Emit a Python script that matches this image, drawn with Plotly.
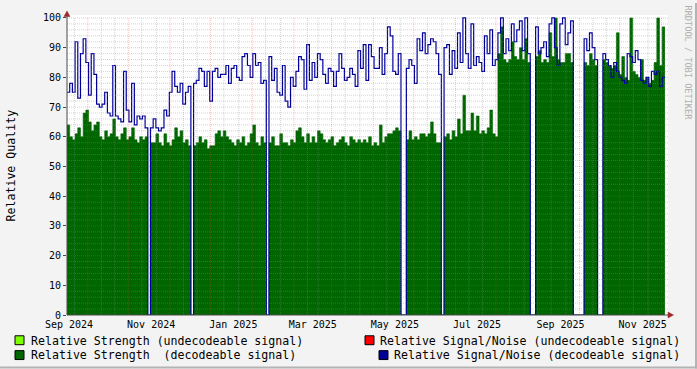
import plotly.graph_objects as go
from datetime import datetime, timedelta

# ---------------- data ----------------
START = datetime(2024, 8, 30, 12)   # left edge of the graph
BIN_DAYS = 2                        # consolidation step of the archive
VIEW_DAYS = 446.3                   # visible time span

# Relative Signal/Noise (decodeable signal), one value per 2-day step
SN_DECODED = [
    75, 78, 75, 92, 73, 88, 93, 85, 74, 88,
    81, 71, 70, 71, 75, 68, 67, 84, 67, 66,
    65, 82, 69, 65, 78, 64, 67, 66, 67, 63,
    0, 63, 66, 63, 62, 63, 69, 67, 75, 82,
    77, 75, 78, 71, 75, 77, 0, 78, 79, 83,
    82, 77, 82, 72, 82, 83, 80, 81, 81, 84,
    78, 83, 84, 80, 79, 87, 88, 84, 80, 88,
    84, 85, 78, 79, 0, 87, 79, 83, 75, 74,
    84, 72, 70, 80, 77, 82, 87, 86, 76, 91,
    79, 85, 80, 88, 86, 81, 78, 83, 82, 77,
    82, 88, 83, 79, 80, 83, 81, 77, 89, 83,
    91, 79, 91, 87, 83, 83, 90, 81, 88, 97,
    94, 82, 81, 88, 0, 0, 83, 86, 84, 78,
    93, 89, 95, 88, 91, 93, 92, 88, 81, 0,
    90, 91, 81, 89, 83, 95, 85, 100, 88, 83,
    98, 84, 87, 85, 82, 94, 88, 96, 84, 86,
    95, 100, 88, 93, 89, 98, 92, 96, 99, 89,
    100, 88, 0, 0, 97, 88, 90, 92, 87, 98,
    100, 90, 84, 98, 100, 91, 95, 99, 0, 0,
    0, 0, 93, 89, 95, 90, 86, 0, 0, 88,
    86, 84, 80, 85, 82, 80, 79, 78, 88, 87,
    85, 89, 86, 79, 78, 80, 77, 82, 81, 82,
    77, 80,
]

# Relative Strength (decodeable signal), one value per 2-day step
STRENGTH_DECODED = [
    64, 60, 59, 61, 63, 60, 68, 69, 65, 62,
    64, 65, 60, 59, 62, 60, 61, 66, 60, 59,
    61, 63, 59, 60, 63, 59, 58, 60, 59, 60,
    0, 58, 58, 61, 58, 57, 61, 58, 57, 59,
    63, 60, 62, 58, 59, 57, 0, 57, 58, 60,
    58, 59, 56, 57, 57, 61, 62, 60, 62, 60,
    59, 58, 57, 59, 58, 60, 57, 58, 61, 64,
    58, 57, 60, 58, 0, 58, 60, 57, 57, 61,
    58, 58, 57, 59, 58, 62, 63, 60, 58, 61,
    58, 60, 58, 62, 61, 59, 58, 59, 60, 57,
    58, 59, 60, 58, 57, 60, 59, 58, 59, 58,
    59, 58, 60, 57, 58, 57, 64, 58, 60, 61,
    61, 62, 63, 62, 0, 0, 59, 62, 59, 60,
    59, 61, 61, 60, 61, 65, 61, 58, 58, 0,
    60, 61, 59, 62, 60, 66, 61, 74, 62, 62,
    68, 62, 67, 61, 62, 61, 63, 69, 61, 60,
    88, 97, 86, 85, 86, 92, 87, 86, 90, 86,
    93, 85, 0, 0, 87, 89, 85, 86, 85, 95,
    87, 100, 86, 85, 85, 88, 88, 85, 0, 0,
    0, 0, 85, 84, 88, 86, 84, 0, 0, 86,
    85, 84, 83, 84, 95, 81, 87, 80, 79, 100,
    82, 81, 80, 86, 79, 80, 78, 79, 85, 100,
    84, 97,
]

TICK_DATES = ["2024-09-01", "2024-11-01", "2025-01-01", "2025-03-01",
              "2025-05-01", "2025-07-01", "2025-09-01", "2025-11-01"]
TICK_LABELS = ["Sep 2024", "Nov 2024", "Jan 2025", "Mar 2025",
               "May 2025", "Jul 2025", "Sep 2025", "Nov 2025"]
Y_TICKS = list(range(0, 101, 10))

LEGEND_ITEMS = [
    ("Relative Strength (undecodeable signal)", "#80FF00"),
    ("Relative Strength  (decodeable signal)", "#006600"),
    ("Relative Signal/Noise (undecodeable signal)", "#FF0000"),
    ("Relative Signal/Noise (decodeable signal)", "#000099"),
]

# ---------------- geometry / style ----------------
W, H = 697, 369
L, R, T, B = 67, 668, 12, 315
FONT = "DejaVu Sans Mono"
GREEN = "#006600"
BLUE = "#000099"
MGRID = "rgba(255,50,50,0.32)"
GRID = "rgba(140,140,140,0.38)"
AXIS = "#4a4a4a"
ARROW = "#a02828"


def px(x):
    return (x - L) / (R - L)


def py(y):
    return (B - y) / (B - T)


n = len(SN_DECODED)
times = [START + timedelta(days=BIN_DAYS * i) for i in range(n + 1)]
sn = SN_DECODED + [SN_DECODED[-1]]
st = STRENGTH_DECODED + [STRENGTH_DECODED[-1]]

fig = go.Figure()
fig.add_trace(go.Scatter(
    x=times, y=st, mode="lines",
    line=dict(shape="hv", width=0.6, color=GREEN),
    fill="tozeroy", fillcolor=GREEN, hoverinfo="skip"))
fig.add_trace(go.Scatter(
    x=times, y=sn, mode="lines",
    line=dict(shape="hv", width=1.2, color=BLUE), hoverinfo="skip"))

shapes = []
# horizontal grid
for v in range(2, 101, 2):
    major = v % 10 == 0
    shapes.append(dict(type="line", xref="paper", yref="y", x0=0, x1=1, y0=v, y1=v,
                       layer="above",
                       line=dict(color=MGRID if major else GRID, width=1, dash="1px,1px")))
# vertical grid: 5th, 15th (major), 25th of each month
end = START + timedelta(days=VIEW_DAYS)
yy, mm = 2024, 8
while True:
    for d in (5, 15, 25):
        t = datetime(yy, mm, d)
        if START < t < end:
            shapes.append(dict(type="line", xref="x", yref="y", x0=t, x1=t, y0=0, y1=100,
                               layer="above",
                               line=dict(color=MGRID if d == 15 else GRID, width=1,
                                         dash="1px,1px")))
    mm += 1
    if mm > 12:
        mm, yy = 1, yy + 1
    if datetime(yy, mm, 1) > end:
        break

# axes lines and arrows
shapes.append(dict(type="line", xref="paper", yref="paper", x0=0, x1=px(669),
                   y0=0, y1=0, layer="above", line=dict(color=AXIS, width=1)))
shapes.append(dict(type="line", xref="paper", yref="paper", x0=0, x1=0,
                   y0=0, y1=py(12), layer="above", line=dict(color=AXIS, width=1)))
shapes.append(dict(type="path", xref="paper", yref="paper", layer="above",
                   path=f"M {px(668)} {py(312)} L {px(673.5)} {py(315)} L {px(668)} {py(318)} Z",
                   fillcolor=ARROW, line=dict(color=ARROW, width=0.5)))
shapes.append(dict(type="path", xref="paper", yref="paper", layer="above",
                   path=f"M {px(64)} {py(13.5)} L {px(67)} {py(8)} L {px(70)} {py(13.5)} Z",
                   fillcolor=ARROW, line=dict(color=ARROW, width=0.5)))

# frame of the canvas
shapes.append(dict(type="line", xref="paper", yref="paper", x0=px(0), x1=px(W),
                   y0=py(H - 1), y1=py(H - 1), line=dict(color="#b4b4b4", width=2)))
shapes.append(dict(type="line", xref="paper", yref="paper", x0=px(W - 1), x1=px(W - 1),
                   y0=py(0), y1=py(H), line=dict(color="#b4b4b4", width=2)))

annotations = []
# legend
legend_pos = [
    (15, 336, 29, 341, "left"),
    (15, 351, 29, 355.5, "left"),
    (365, 336, 682, 341, "right"),
    (379, 351, 682, 355.5, "right"),
]
for (label, color), (bx, by, tx, ty, anchor) in zip(LEGEND_ITEMS, legend_pos):
    shapes.append(dict(type="rect", xref="paper", yref="paper",
                       x0=px(bx), x1=px(bx + 9), y0=py(by), y1=py(by + 9),
                       fillcolor=color, line=dict(color="#000000", width=1)))
    annotations.append(dict(xref="paper", yref="paper", x=px(tx), y=py(ty),
                            xanchor=anchor, yanchor="middle", showarrow=False,
                            text=label.replace(" ", "&nbsp;"),
                            font=dict(family=FONT, size=11.6, color="#000000")))

annotations.append(dict(xref="paper", yref="paper", x=px(11), y=py(164),
                        xanchor="center", yanchor="middle", showarrow=False,
                        text="Relative Quality", textangle=-90,
                        font=dict(family=FONT, size=11.6, color="#000000")))
annotations.append(dict(xref="paper", yref="paper", x=px(688), y=py(60),
                        xanchor="center", yanchor="middle", showarrow=False,
                        text="RRDTOOL / TOBI OETIKER", textangle=90,
                        font=dict(family=FONT, size=8.6, color="#b0b0b0")))

fig.update_layout(
    width=W, height=H,
    margin=dict(l=L, r=W - R, t=T, b=H - B, pad=0),
    paper_bgcolor="#f3f3f3", plot_bgcolor="#ffffff",
    showlegend=False,
    font=dict(family=FONT, size=10, color="#000000"),
    shapes=shapes, annotations=annotations,
    xaxis=dict(type="date", range=[START, end], showgrid=False, zeroline=False,
               tickmode="array", tickvals=TICK_DATES, ticktext=TICK_LABELS,
               ticks="", showline=False, tickfont=dict(family=FONT, size=10),
               ticklabelstandoff=2, fixedrange=True),
    yaxis=dict(range=[0, 101], showgrid=False, zeroline=False,
               tickmode="array", tickvals=Y_TICKS,
               ticks="outside", ticklen=3, tickcolor=AXIS, showline=False,
               tickfont=dict(family=FONT, size=10), fixedrange=True),
)

fig.write_html("out.html", config={"displayModeBar": False})
